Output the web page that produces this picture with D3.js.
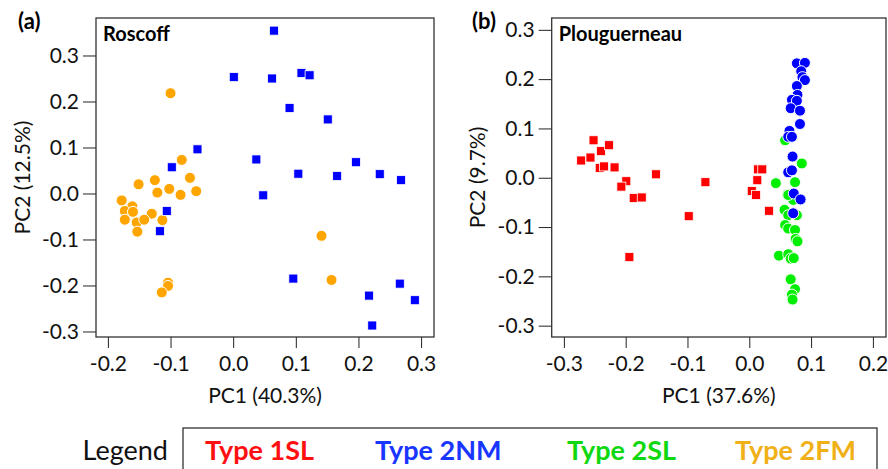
<!DOCTYPE html>
<html>
<head>
<meta charset="utf-8">
<script src="https://cdn.jsdelivr.net/npm/d3@7"></script>
<style>
  html, body { margin: 0; padding: 0; background: #fff; }
  svg { display: block; font-family: Lato, "Open Sans", sans-serif; }
</style>
</head>
<body>
<svg id="chart" width="888" height="469"></svg>
<script>
// ---------- Data ----------
const legendTypes = ["Type 1SL", "Type 2NM", "Type 2SL", "Type 2FM"];
const markerColors = { "Type 1SL": "#ff0000", "Type 2NM": "#0000ff", "Type 2SL": "#00ee00", "Type 2FM": "#ffa500" };
const legendColors = { "Type 1SL": "#ff1010", "Type 2NM": "#1836ff", "Type 2SL": "#10d810", "Type 2FM": "#f0b018" };

const ticksA_x = [-0.2, -0.1, 0.0, 0.1, 0.2, 0.3];
const ticksA_y = [-0.3, -0.2, -0.1, 0.0, 0.1, 0.2, 0.3];
const ticksB_x = [-0.3, -0.2, -0.1, 0.0, 0.1, 0.2];
const ticksB_y = [-0.3, -0.2, -0.1, 0.0, 0.1, 0.2, 0.3];

// Roscoff: Type 2FM (orange circles)
const roscoff2FM = [
  [-0.100, 0.218], [-0.082, 0.073], [-0.069, 0.034], [-0.125, 0.029], [-0.151, 0.020],
  [-0.102, 0.010], [-0.121, 0.002], [-0.084, -0.003], [-0.059, 0.005], [-0.178, -0.015],
  [-0.161, -0.028], [-0.173, -0.038], [-0.160, -0.040], [-0.173, -0.057], [-0.154, -0.063],
  [-0.130, -0.044], [-0.142, -0.057], [-0.113, -0.058], [-0.153, -0.083], [0.141, -0.092],
  [0.157, -0.188], [-0.104, -0.194], [-0.104, -0.201], [-0.114, -0.215]
];
// Roscoff: Type 2NM (blue squares)
const roscoff2NM = [
  [0.065, 0.354], [0.001, 0.253], [0.062, 0.250], [0.109, 0.262], [0.122, 0.257],
  [0.090, 0.186], [0.151, 0.161], [-0.057, 0.096], [-0.098, 0.057], [0.037, 0.074],
  [0.104, 0.043], [0.166, 0.038], [0.196, 0.068], [0.234, 0.042], [0.268, 0.029],
  [0.048, -0.004], [-0.106, -0.038], [-0.117, -0.082], [0.096, -0.185], [0.217, -0.222],
  [0.266, -0.196], [0.290, -0.232], [0.222, -0.287]
];
// Plouguerneau: Type 1SL (red squares)
const plougo1SL = [
  [-0.272, 0.035], [-0.257, 0.041], [-0.252, 0.076], [-0.240, 0.054], [-0.227, 0.066],
  [-0.242, 0.020], [-0.235, 0.023], [-0.218, 0.021], [-0.151, 0.007], [-0.199, -0.007],
  [-0.207, -0.018], [-0.071, -0.009], [0.014, 0.017], [0.021, 0.017], [0.013, -0.005],
  [-0.187, -0.041], [-0.174, -0.040], [-0.098, -0.078], [0.004, -0.027], [0.011, -0.035],
  [0.032, -0.067], [-0.194, -0.161]
];
// Plouguerneau: Type 2SL (green circles)
const plougo2SL = [
  [0.058, 0.076], [0.085, 0.029], [0.043, -0.011], [0.074, -0.009], [0.062, -0.034],
  [0.071, -0.045], [0.063, -0.035], [0.057, -0.065], [0.063, -0.076], [0.077, -0.076],
  [0.058, -0.096], [0.063, -0.103], [0.074, -0.106], [0.075, -0.124], [0.078, -0.129],
  [0.048, -0.158], [0.063, -0.155], [0.067, -0.164], [0.072, -0.163], [0.067, -0.206],
  [0.074, -0.226], [0.069, -0.237], [0.070, -0.247]
];
// Plouguerneau: Type 2NM (blue circles)
const plougo2NM = [
  [0.077, 0.232], [0.090, 0.233], [0.084, 0.216], [0.086, 0.204], [0.090, 0.198],
  [0.077, 0.186], [0.078, 0.168], [0.069, 0.158], [0.077, 0.156], [0.067, 0.141],
  [0.082, 0.136], [0.082, 0.109], [0.065, 0.095], [0.063, 0.083], [0.069, 0.083],
  [0.070, 0.043], [0.063, 0.011], [0.069, 0.015], [0.072, -0.032], [0.083, -0.044],
  [0.071, -0.072]
];

// ---------- Drawing ----------
const svg = d3.select("#chart");
const fmt = d => (Math.abs(d) < 1e-9 ? "0.0" : d.toFixed(1));

function panel(opts) {
  const x = d3.scaleLinear().domain(opts.xlim).range([opts.left, opts.right]);
  const y = d3.scaleLinear().domain(opts.ylim).range([opts.bottom, opts.top]);
  const g = svg.append("g");

  const ax = g.append("g").attr("transform", `translate(0,${opts.bottom})`)
    .call(d3.axisBottom(x).tickValues(opts.xticks).tickFormat(fmt).tickSizeOuter(0).tickSize(11).tickPadding(8));
  const ay = g.append("g").attr("transform", `translate(${opts.left},0)`)
    .call(d3.axisLeft(y).tickValues(opts.yticks).tickFormat(fmt).tickSizeOuter(0).tickSize(13).tickPadding(4));
  [ax, ay].forEach(a => {
    a.select(".domain").remove();
    a.selectAll("line").attr("stroke", "#222").attr("stroke-width", 1);
    a.selectAll("text").attr("font-size", 21).attr("fill", "#111").attr("font-family", "Lato, sans-serif");
  });

  g.append("rect")
    .attr("x", opts.left).attr("y", opts.top)
    .attr("width", opts.right - opts.left).attr("height", opts.bottom - opts.top)
    .attr("fill", "none").attr("stroke", "#333").attr("stroke-width", 1.3);

  opts.series.forEach(s => {
    if (s.shape === "square") {
      const sz = 9;
      g.append("g").selectAll("rect").data(s.data).join("rect")
        .attr("x", d => x(d[0]) - sz / 2).attr("y", d => y(d[1]) - sz / 2)
        .attr("width", sz).attr("height", sz)
        .attr("fill", markerColors[s.type]).attr("stroke", "#fff").attr("stroke-width", 0.8);
    } else {
      g.append("g").selectAll("circle").data(s.data).join("circle")
        .attr("cx", d => x(d[0])).attr("cy", d => y(d[1])).attr("r", 5.5)
        .attr("fill", markerColors[s.type]).attr("stroke", "#fff").attr("stroke-width", 1);
    }
  });

  g.append("text").attr("x", (opts.left + opts.right) / 2).attr("y", 403)
    .attr("text-anchor", "middle").attr("font-size", 21).attr("fill", "#111").text(opts.xtitle);
  g.append("text")
    .attr("transform", `translate(${opts.ytitleX},${(opts.top + opts.bottom) / 2}) rotate(-90)`)
    .attr("text-anchor", "middle").attr("font-size", 21).attr("fill", "#111").text(opts.ytitle);
  g.append("text").attr("x", opts.left + 7).attr("y", 41)
    .attr("font-size", 20).attr("font-weight", "bold").attr("fill", "#000").text(opts.site);
  g.append("text").attr("x", opts.tagX).attr("y", 29)
    .attr("font-size", 22).attr("font-weight", "bold").attr("fill", "#000").text(opts.tag);
}

panel({
  left: 96, right: 434, top: 18, bottom: 337,
  xlim: [-0.219, 0.3206], ylim: [-0.312, 0.3815],
  xticks: ticksA_x, yticks: ticksA_y,
  xtitle: "PC1 (40.3%)", ytitle: "PC2 (12.5%)", ytitleX: 30,
  site: "Roscoff", tag: "(a)", tagX: 18,
  series: [
    { type: "Type 2FM", shape: "circle", data: roscoff2FM },
    { type: "Type 2NM", shape: "square", data: roscoff2NM }
  ]
});

panel({
  left: 551.7, right: 886, top: 18, bottom: 337,
  xlim: [-0.3197, 0.2212], ylim: [-0.323, 0.324],
  xticks: ticksB_x, yticks: ticksB_y,
  xtitle: "PC1 (37.6%)", ytitle: "PC2 (9.7%)", ytitleX: 485,
  site: "Plouguerneau", tag: "(b)", tagX: 472,
  series: [
    { type: "Type 1SL", shape: "square", data: plougo1SL },
    { type: "Type 2SL", shape: "circle", data: plougo2SL },
    { type: "Type 2NM", shape: "circle", data: plougo2NM }
  ]
});

// legend
const legendStarts = [205, 375, 567, 735];
const lg = svg.append("g");
lg.append("rect").attr("x", 183).attr("y", 428).attr("width", 694).attr("height", 60)
  .attr("fill", "none").attr("stroke", "#333").attr("stroke-width", 1.3);
lg.append("text").attr("x", 168).attr("y", 460).attr("text-anchor", "end")
  .attr("font-size", 27).attr("fill", "#111").text("Legend");
lg.selectAll("text.item").data(legendTypes).join("text").attr("class", "item")
  .attr("x", (d, i) => legendStarts[i]).attr("y", 460)
  .attr("font-size", 27).attr("font-weight", "bold")
  .attr("fill", d => legendColors[d]).text(d => d);
</script>
</body>
</html>
